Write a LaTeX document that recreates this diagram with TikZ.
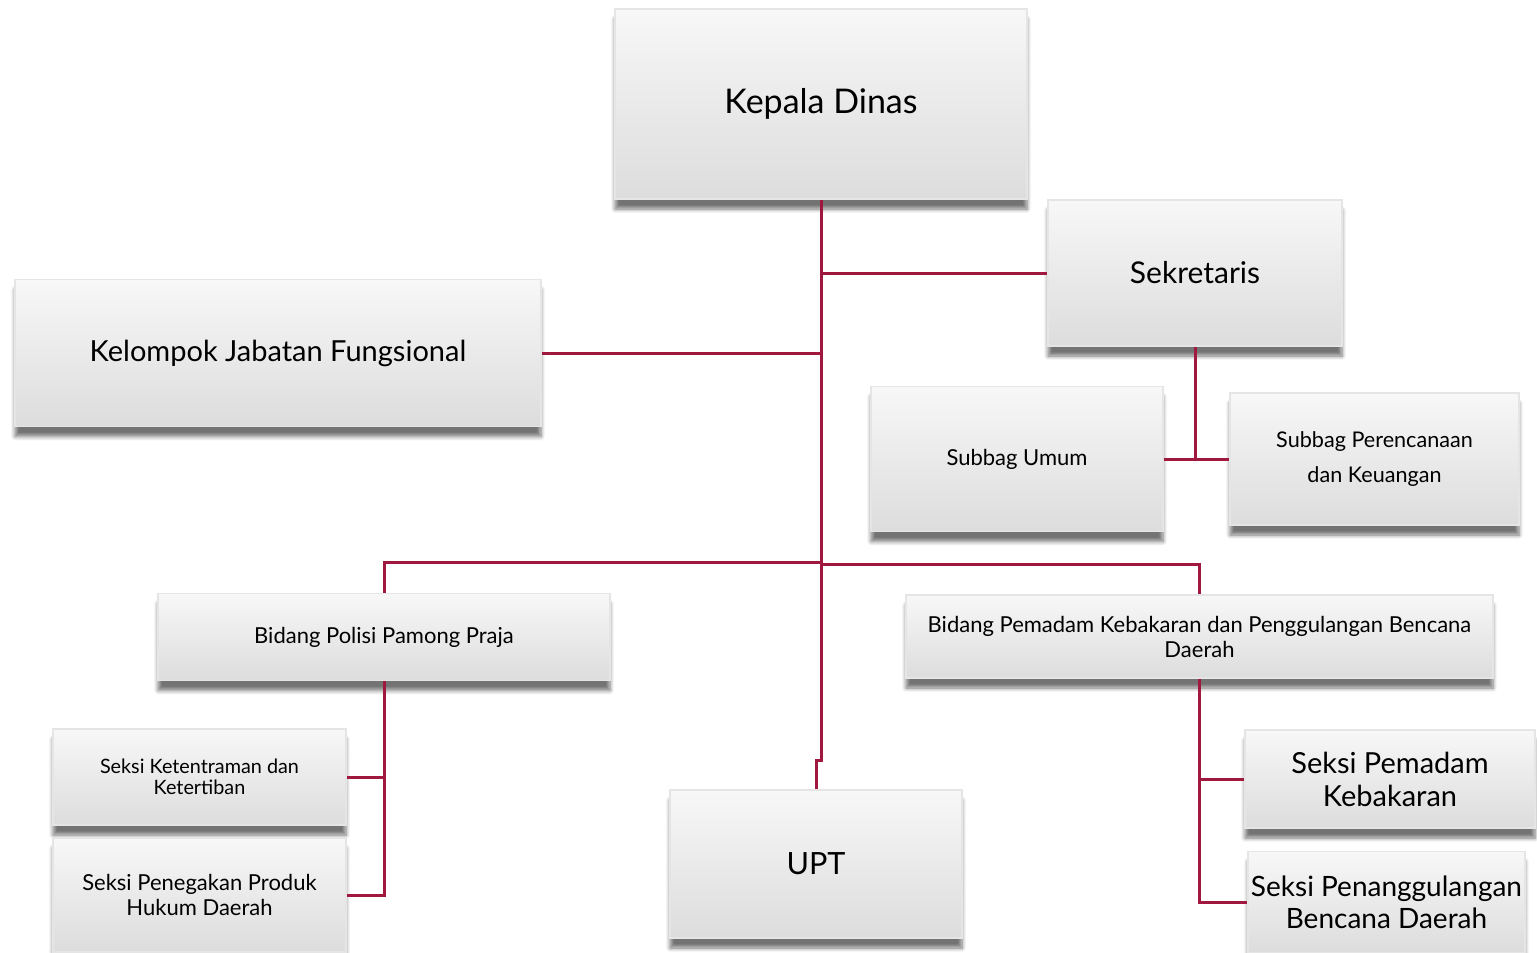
\documentclass[tikz,border=0pt]{standalone}
\usepackage{fontspec}
\setmainfont{Lato}
\usetikzlibrary{shadows.blur}

\definecolor{linienrot}{RGB}{160,24,62}

\tikzset{
  kasten/.style={rectangle, draw=gray!20, line width=0.6pt, top color=gray!6, bottom color=gray!27,
    blur shadow={shadow xshift=0pt, shadow yshift=-5pt, shadow blur steps=6, shadow opacity=55},
    align=center, inner sep=2pt},
  linie/.style={linienrot, line width=1.5pt}
}
\newcommand{\gr}[2]{\fontsize{#1}{#2}\selectfont}

\begin{document}
\begin{tikzpicture}[x=0.5pt,y=-0.5pt]
  % Rahmen
  \useasboundingbox (0,0) rectangle (1537,953);

  % Kaesten
  \node[kasten, minimum width=206pt, minimum height=95pt, font=\gr{17}{20}] (kepala) at (821,104) {Kepala Dinas};
  \node[kasten, minimum width=147pt, minimum height=73pt, font=\gr{15}{18}] (sekretaris) at (1195,273) {Sekretaris};
  \node[kasten, minimum width=263pt, minimum height=73.5pt, font=\gr{14.5}{17}] (kelompok) at (278,353) {Kelompok Jabatan Fungsional};
  \node[kasten, minimum width=146pt, minimum height=72.5pt, font=\gr{11}{13}] (umum) at (1017,459) {Subbag Umum};
  \node[kasten, minimum width=144.5pt, minimum height=66pt, font=\gr{10.8}{17.5}] (perencanaan) at (1374.5,459) {Subbag Perencanaan\\dan Keuangan};
  \node[kasten, minimum width=226pt, minimum height=43.5pt, font=\gr{11}{12.5}] (polisi) at (384,637) {Bidang Polisi Pamong Praja};
  \node[kasten, minimum width=293.5pt, minimum height=41.5pt, font=\gr{11}{12.5}] (pemadam) at (1199.5,636.5) {Bidang Pemadam Kebakaran dan Penggulangan Bencana\\Daerah};
  \node[kasten, minimum width=146.5pt, minimum height=48pt, font=\gr{9.9}{10.5}] (ketentraman) at (199.5,777) {Seksi Ketentraman dan\\Ketertiban};
  \node[kasten, minimum width=146.5pt, minimum height=57pt, font=\gr{11}{12.5}] (penegakan) at (199.5,895) {Seksi Penegakan Produk\\Hukum Daerah};
  \node[kasten, minimum width=146pt, minimum height=74pt, font=\gr{15.3}{18}] (upt) at (816,864) {UPT};
  \node[kasten, minimum width=145pt, minimum height=49pt, font=\gr{14.5}{16.5}] (seksipemadam) at (1390,779) {Seksi Pemadam\\Kebakaran};
  \node[kasten, minimum width=138.5pt, minimum height=50.5pt, inner sep=0pt, font=\gr{14}{16}] (bencana) at (1386.5,902) {Seksi Penanggulangan\\Bencana Daerah};

  % Verbindungen
  \coordinate (mitte) at (821,562);
  \coordinate (knick) at (821,760);
  \draw[linie] (kepala.south) -- (knick) -- ++(-5,0) -- (upt.north);
  \draw[linie] (kepala.south |- sekretaris.west) -- (sekretaris.west);
  \draw[linie] (kelompok.east) -- (kelompok.east -| kepala.south);
  \draw[linie] (sekretaris.south) -- (sekretaris.south |- umum.east);
  \draw[linie] (umum.east) -- (perencanaan.west);
  \draw[linie] (polisi.north) -- (polisi.north |- mitte) -- (mitte);
  \draw[linie] (mitte) ++(0,2) -| (pemadam.north);

  \foreach \k in {ketentraman,penegakan} {
    \draw[linie] (polisi.south) |- (\k.east);
  }
  \foreach \k in {seksipemadam,bencana} {
    \draw[linie] (pemadam.south) |- (\k.west);
  }

\end{tikzpicture}
\end{document}
